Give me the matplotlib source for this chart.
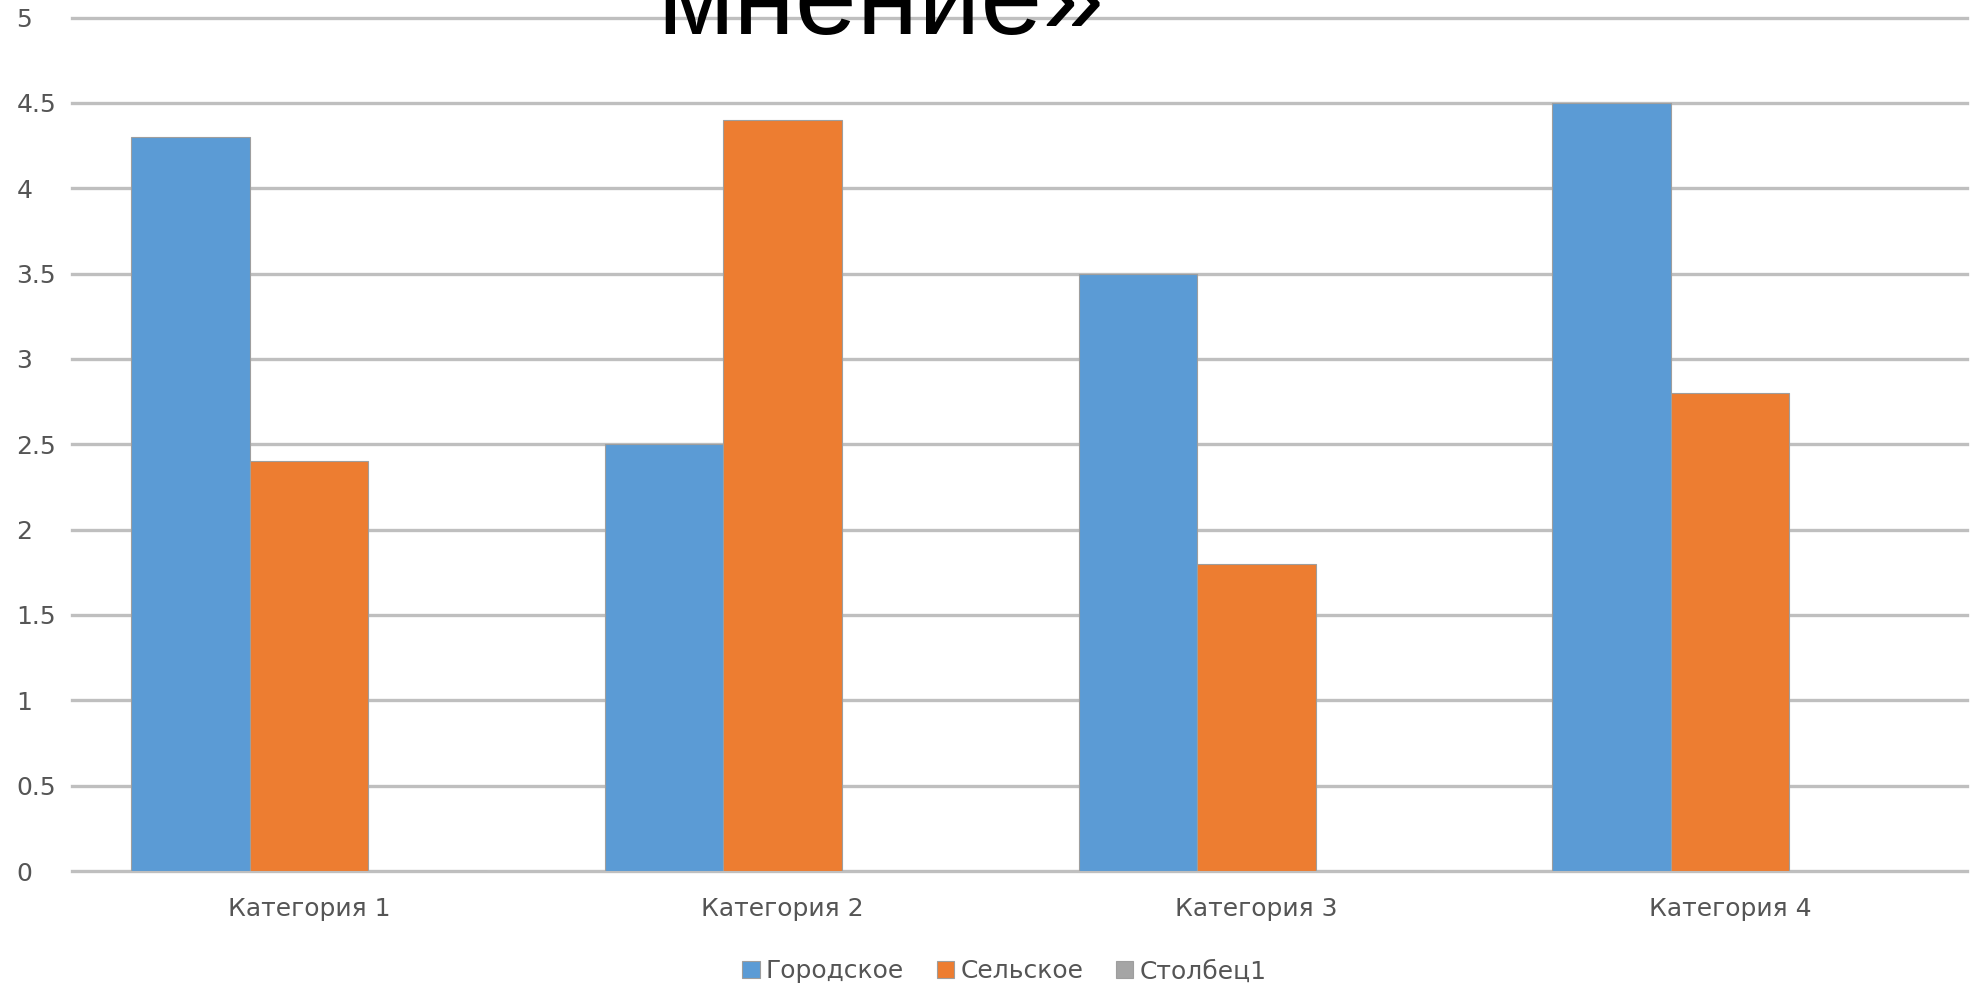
import numpy as np
import matplotlib
matplotlib.use('Agg')
import matplotlib.pyplot as plt

# данные диаграммы
categories = ['Категория 1', 'Категория 2', 'Категория 3', 'Категория 4']
series_names = ['Городское', 'Сельское', 'Столбец1']
gorodskoe = [4.3, 2.5, 3.5, 4.5]
selskoe = [2.4, 4.4, 1.8, 2.8]
stolbec1 = [0, 0, 0, 0]
y_ticks = [0, 0.5, 1, 1.5, 2, 2.5, 3, 3.5, 4, 4.5, 5]
y_tick_labels = ['0', '0.5', '1', '1.5', '2', '2.5', '3', '3.5', '4', '4.5', '5']

colors = ['#5B9BD5', '#ED7D31', '#A5A5A5']
grid_color = '#BFBFBF'
text_color = '#555555'

plt.rcParams['font.family'] = ['DejaVu Sans']

fig = plt.figure(figsize=(19.76, 9.88), dpi=100)
ax = fig.add_axes([72 / 1976, 1 - 871 / 988, (1967 - 72) / 1976, (871 - 17.6) / 988])

x = np.arange(len(categories))
w = 0.25
values = [gorodskoe, selskoe, stolbec1]
for i, (name, vals) in enumerate(zip(series_names, values)):
    ax.bar(x + (i - 1) * w, vals, width=w, color=colors[i], label=name,
           edgecolor='#9E9E9E', linewidth=0.8, zorder=3)

ax.set_xlim(-0.5, len(categories) - 0.5)
ax.set_ylim(0, 5)
ax.set_yticks(y_ticks)
ax.set_yticklabels(y_tick_labels)
ax.set_xticks(x)
ax.set_xticklabels(categories)

# сетка
for yv in y_ticks:
    ax.axhline(yv, color=grid_color, linewidth=2.4, zorder=1, clip_on=False)

for s in ax.spines.values():
    s.set_visible(False)
ax.tick_params(axis='both', length=0, colors=text_color, labelsize=18)
ax.tick_params(axis='y', pad=40)
ax.tick_params(axis='x', pad=19)
for lbl in ax.get_yticklabels():
    lbl.set_horizontalalignment('left')

leg = ax.legend(loc='lower center', bbox_to_anchor=(0.492, -0.158), ncol=3,
                frameon=False, fontsize=18, handlelength=0.7, handleheight=0.7,
                handletextpad=0.25, columnspacing=1.3)
for t in leg.get_texts():
    t.set_color(text_color)

# заголовок, обрезанный сверху
fig.text(881 / 1976, 1 - 34 / 988, 'мнение»', fontsize=80, family='Liberation Sans',
         ha='center', va='baseline', color='black', zorder=10)

fig.savefig('out.png', dpi=100)
